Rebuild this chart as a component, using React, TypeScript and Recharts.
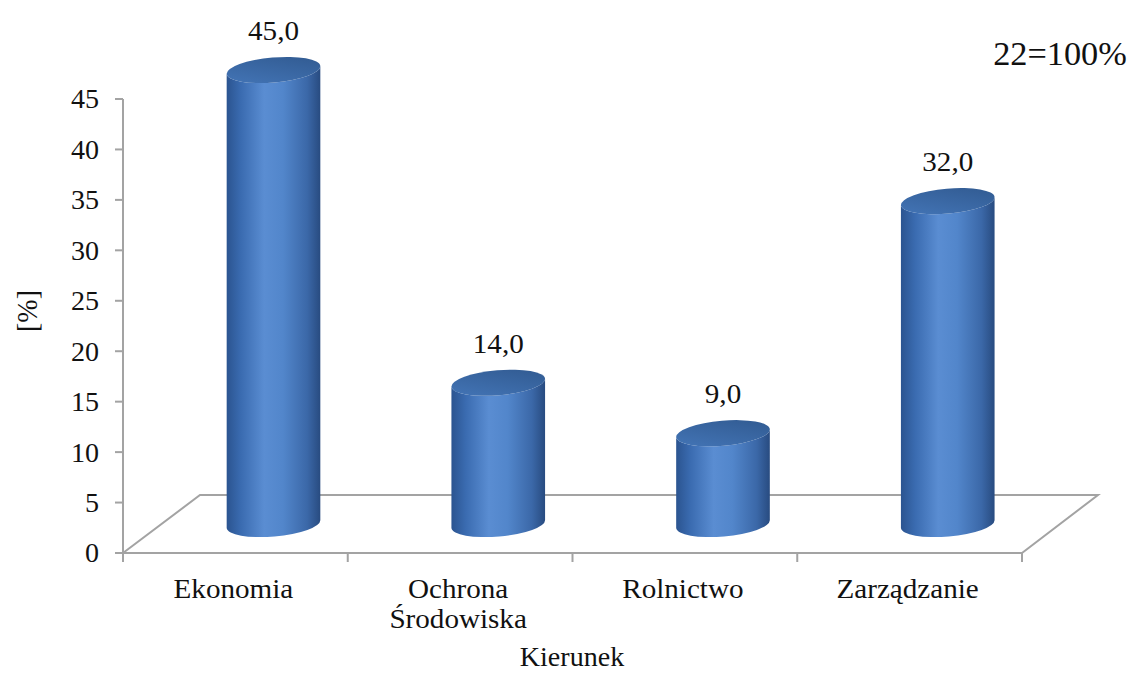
import React from "react";
import * as R from "recharts";

const { BarChart, Bar, XAxis, YAxis, LabelList } = R;

// values
const categories = ["Ekonomia", "Ochrona\nŚrodowiska", "Rolnictwo", "Zarządzanie"];
const shares = [45.0, 14.0, 9.0, 32.0];
const yTicks = [0, 5, 10, 15, 20, 25, 30, 35, 40, 45];
const totalNote = "22=100%";

const data = categories.map((name, i) => ({ name, value: shares[i] }));

const FONT = "'Liberation Serif', 'Times New Roman', serif";
const AXIS_GRAY = "#a3a3a3";
const STRETCH = 1.04; // source picture is a touch wider than tall
const DEPTH_X = 77;
const DEPTH_Y = 58;
const DX = DEPTH_X / 2;
const DY = -DEPTH_Y / 2;
const TILT = -5;

const fmt = (v: number) => v.toFixed(1).replace(".", ",");

function SText({ x, y, size, anchor = "middle", rotate = 0, children }: any) {
  return (
    <text
      transform={`translate(${x},${y}) scale(${STRETCH},1)${rotate ? ` rotate(${rotate})` : ""}`}
      textAnchor={anchor}
      dy="0.35em"
      fontFamily={FONT}
      fontSize={size}
      fill="#111"
    >
      {children}
    </text>
  );
}

function Floor() {
  const usePA = (R as any).usePlotArea;
  const pa = usePA ? usePA() : null;
  const area = pa ?? { x: 123, y: 99, width: 899, height: 454 };
  const x0 = area.x;
  const x1 = area.x + area.width;
  const yb = area.y + area.height;
  const pts = [
    [x0, yb],
    [x0 + DEPTH_X, yb - DEPTH_Y],
    [x1 + DEPTH_X - 1, yb - DEPTH_Y],
    [x1, yb],
  ]
    .map((p) => p.join(","))
    .join(" ");
  return <polyline points={pts} fill="none" stroke={AXIS_GRAY} strokeWidth={2} />;
}

function Cylinder(props: any) {
  const { x, y, width, height, index } = props;
  if (height == null || width == null) return null;
  const rx = width / 2;
  const ry = 12.5;
  const cx = x + width / 2 + DX;
  const top = y + DY;
  const base = y + height + DY;
  const t = (TILT * Math.PI) / 180;
  const ex = rx * Math.cos(t);
  const ey = rx * Math.sin(t);
  const side =
    `M${cx - ex},${top - ey} L${cx - ex},${base - ey} ` +
    `A${rx},${ry} ${TILT} 0 0 ${cx + ex},${base + ey} ` +
    `L${cx + ex},${top + ey} ` +
    `A${rx},${ry} ${TILT} 0 1 ${cx - ex},${top - ey} Z`;
  const sideId = `cylSide${index}`;
  const capId = `cylCap${index}`;
  return (
    <g>
      <defs>
        <linearGradient id={sideId} x1="0" y1="0" x2="1" y2="0">
          <stop offset="0%" stopColor="#2b5490" />
          <stop offset="15%" stopColor="#3a6bb0" />
          <stop offset="40%" stopColor="#5a8dd2" />
          <stop offset="60%" stopColor="#5286cb" />
          <stop offset="86%" stopColor="#3b68a8" />
          <stop offset="100%" stopColor="#284b80" />
        </linearGradient>
        <linearGradient id={capId} x1="0" y1="1" x2="1" y2="0">
          <stop offset="0%" stopColor="#4476b8" />
          <stop offset="100%" stopColor="#30598f" />
        </linearGradient>
      </defs>
      <path d={side} fill={`url(#${sideId})`} />
      <ellipse
        cx={cx}
        cy={top}
        rx={rx}
        ry={ry}
        transform={`rotate(${TILT} ${cx} ${top})`}
        fill={`url(#${capId})`}
      />
    </g>
  );
}

function ValueLabel(props: any) {
  const { x, y, width, value } = props;
  if (x == null) return null;
  return (
    <SText x={x + width / 2 + DX} y={y + DY - 40} size={28}>
      {fmt(Number(value))}
    </SText>
  );
}

function CategoryTick(props: any) {
  const { x, y, payload, index } = props;
  const half = payload?.offset ?? 112;
  const lines = String(payload.value).split("\n");
  return (
    <g>
      <line x1={x - half} y1={y} x2={x - half} y2={y + 9} stroke={AXIS_GRAY} strokeWidth={2} />
      {index === categories.length - 1 && (
        <line x1={x + half} y1={y} x2={x + half} y2={y + 9} stroke={AXIS_GRAY} strokeWidth={2} />
      )}
      {lines.map((l, i) => (
        <SText key={i} x={x - 2} y={y + 35 + i * 30} size={28}>
          {l}
        </SText>
      ))}
    </g>
  );
}

function ValueTick(props: any) {
  const { x, y, payload } = props;
  return (
    <SText x={x} y={y} size={27} anchor="end">
      {payload.value}
    </SText>
  );
}

export default function App() {
  return (
    <div style={{ position: "absolute", left: 0, top: 0, width: 1131, height: 675, background: "#fff" }}>
      <BarChart
        width={1131}
        height={675}
        data={data}
        margin={{ top: 99, right: 109, left: 0, bottom: 0 }}
        barSize={94}
      >
        <Floor />
        <XAxis
          dataKey="name"
          height={122}
          axisLine={{ stroke: AXIS_GRAY, strokeWidth: 2 }}
          tickLine={false}
          tickSize={0}
          tickMargin={0}
          tick={<CategoryTick />}
          interval={0}
        />
        <YAxis
          width={123}
          domain={[0, 45]}
          ticks={yTicks}
          interval={0}
          axisLine={{ stroke: AXIS_GRAY, strokeWidth: 2 }}
          tickLine={{ stroke: AXIS_GRAY, strokeWidth: 2 }}
          tickSize={8}
          tickMargin={16}
          tick={<ValueTick />}
        />
        <Bar dataKey="value" shape={<Cylinder />} isAnimationActive={false}>
          <LabelList dataKey="value" content={<ValueLabel />} />
        </Bar>
      </BarChart>
      <svg
        width={1131}
        height={675}
        style={{ position: "absolute", left: 0, top: 0, pointerEvents: "none" }}
      >
        <SText x={27} y={311} size={28} rotate={-90}>
          [%]
        </SText>
        <SText x={572} y={657} size={27}>
          Kierunek
        </SText>
        <SText x={1060} y={53} size={33}>
          {totalNote}
        </SText>
      </svg>
    </div>
  );
}
